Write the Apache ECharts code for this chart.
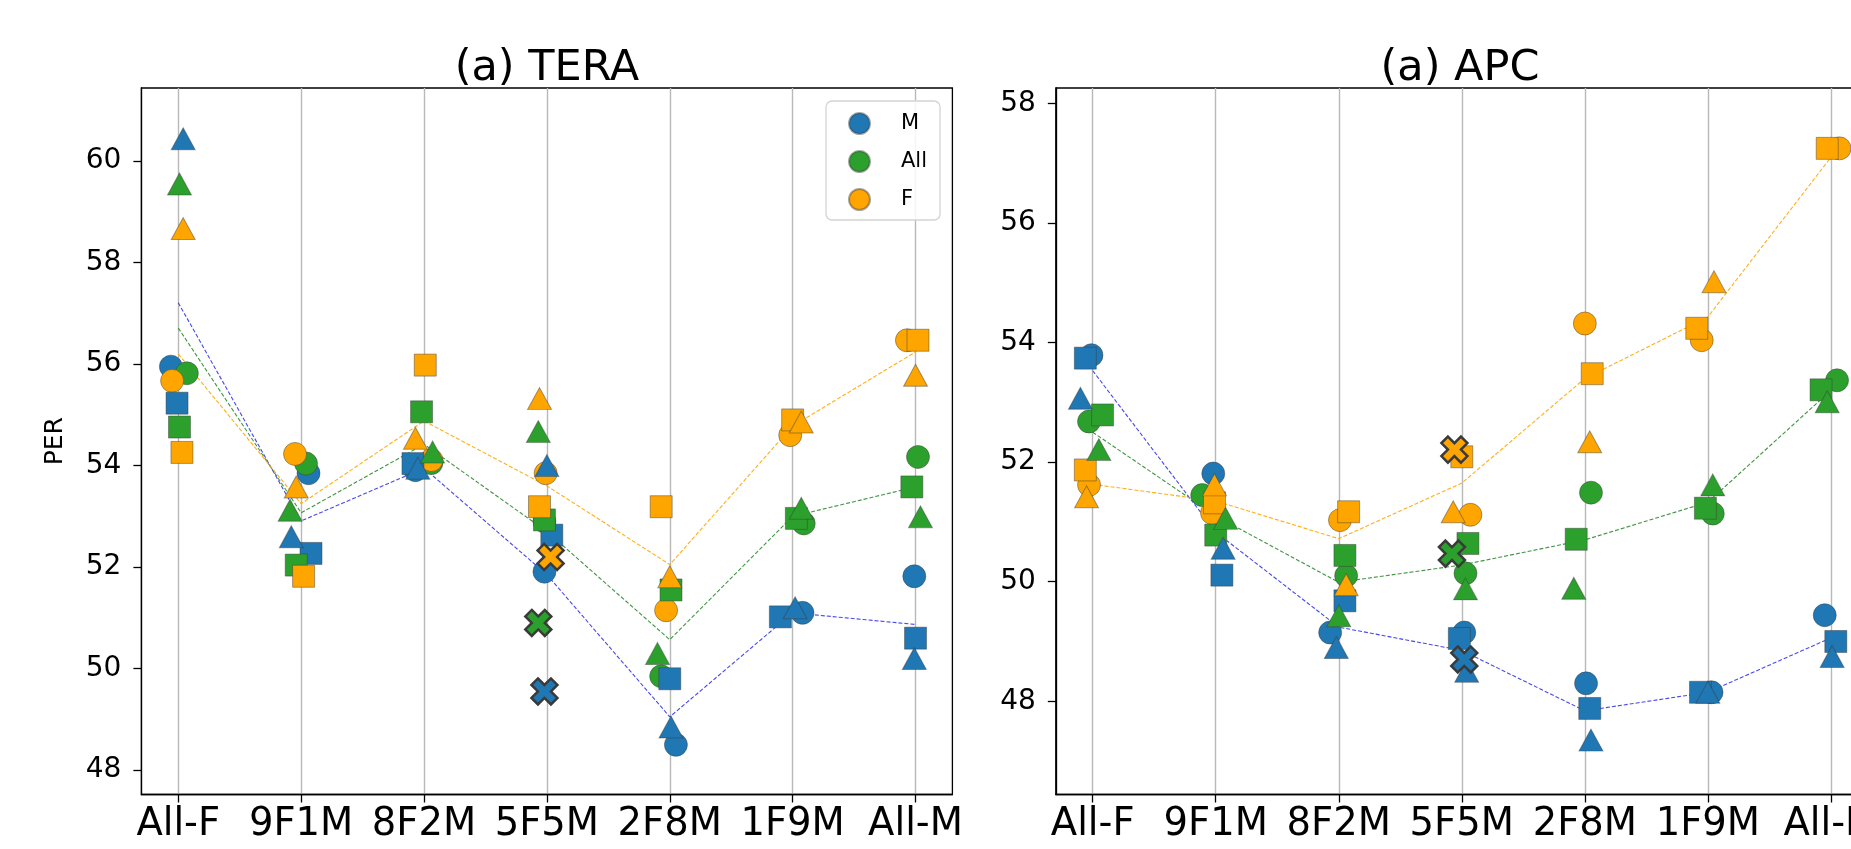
<!DOCTYPE html>
<html><head><meta charset="utf-8">
<script src="https://cdn.jsdelivr.net/npm/echarts@6/dist/echarts.min.js"></script>
<style>html,body{margin:0;padding:0;background:#fff}#c{width:1851px;height:849px}</style>
</head><body><div id="c"></div>
<script>
// ---------- data ----------
const categories = ['All-F', '9F1M', '8F2M', '5F5M', '2F8M', '1F9M', 'All-M'];
const xTicks = [0, 1, 2, 3, 4, 5, 6];
const teraYTicks = [48, 50, 52, 54, 56, 58, 60];
const apcYTicks = [48, 50, 52, 54, 56, 58];
const groups = ['M', 'All', 'F'];

// TERA
const teraM_circle   = [55.95, 53.85, 53.91, 51.91, 48.50, 51.10, 51.82];
const teraM_square   = [55.23, 52.27, 54.04, 52.63, 49.80, 51.02, 50.60];
const teraM_triangle = [60.44, 52.60, 53.95, 54.00, 48.85, 51.20, 50.20];
const teraAll_circle   = [55.82, 54.04, 54.05, 52.90, 49.85, 52.86, 54.17];
const teraAll_square   = [54.76, 52.04, 55.06, 52.93, 51.55, 52.96, 53.58];
const teraAll_triangle = [59.55, 53.12, 54.27, 54.67, 50.30, 53.16, 52.99];
const teraF_circle   = [55.67, 54.23, 54.11, 53.85, 51.15, 54.60, 56.47];
const teraF_square   = [54.26, 51.82, 55.98, 53.19, 53.19, 54.90, 56.47];
const teraF_triangle = [58.67, 53.58, 54.54, 55.32, 51.81, 54.86, 55.78];
const teraX_5F5M = [49.55, 50.90, 52.20];          // M, All, F
const teraLineM   = [57.21, 52.91, 53.95, 51.85, 49.05, 51.10, 50.87];
const teraLineAll = [56.71, 53.07, 54.42, 52.70, 50.57, 53.00, 53.58];
const teraLineF   = [56.20, 53.25, 54.88, 53.60, 52.05, 54.78, 56.24];
// horizontal jitter of each marker (category units)
const teraJitM_circle   = [-0.06, 0.06, -0.07, -0.02, 0.05, 0.08, -0.01];
const teraJitM_square   = [-0.01, 0.08, -0.09, 0.04, 0.00, -0.10, 0.00];
const teraJitM_triangle = [0.04, -0.08, -0.05, 0.00, 0.01, 0.02, -0.01];
const teraJitAll_circle   = [0.07, 0.04, 0.06, -0.02, -0.07, 0.09, 0.02];
const teraJitAll_square   = [0.01, -0.04, -0.02, -0.02, 0.01, 0.03, -0.03];
const teraJitAll_triangle = [0.01, -0.09, 0.07, -0.07, -0.10, 0.07, 0.04];
const teraJitF_circle   = [-0.05, -0.05, 0.06, -0.01, -0.03, -0.02, -0.07];
const teraJitF_square   = [0.03, 0.02, 0.01, -0.06, -0.07, 0.00, 0.02];
const teraJitF_triangle = [0.04, -0.04, -0.07, -0.06, 0.00, 0.07, 0.00];
const teraJitX = [-0.02, -0.07, 0.03];

// APC
const apcM_circle   = [53.79, 51.81, 49.15, 49.15, 48.30, 48.15, 49.44];
const apcM_square   = [53.74, 50.11, 49.68, 49.05, 47.88, 48.15, 49.00];
const apcM_triangle = [53.07, 50.56, 48.90, 48.50, 47.35, 48.15, 48.75];
const apcAll_circle   = [52.68, 51.45, 50.10, 50.14, 51.49, 51.14, 53.37];
const apcAll_square   = [52.79, 50.78, 50.44, 50.64, 50.71, 51.23, 53.21];
const apcAll_triangle = [52.21, 51.06, 49.43, 49.88, 49.89, 51.62, 53.01];
const apcF_circle   = [51.62, 51.15, 51.03, 51.12, 54.32, 54.04, 57.25];
const apcF_square   = [51.87, 51.32, 51.17, 52.09, 53.48, 54.24, 57.25];
const apcF_triangle = [51.42, 51.62, 49.95, 51.17, 52.34, 55.02, 56.90];
const apcX_5F5M = [48.70, 50.47, 52.21];
const apcLineM   = [53.53, 50.83, 49.24, 48.85, 47.84, 48.15, 49.06];
const apcLineAll = [52.50, 51.10, 49.99, 50.28, 50.70, 51.33, 53.20];
const apcLineF   = [51.63, 51.35, 50.72, 51.65, 53.40, 54.43, 57.10];
const apcJitM_circle   = [-0.01, -0.02, -0.07, 0.02, 0.01, 0.03, -0.05];
const apcJitM_square   = [-0.06, 0.05, 0.05, -0.02, 0.04, -0.06, 0.04];
const apcJitM_triangle = [-0.10, 0.06, -0.02, 0.04, 0.05, 0.00, 0.01];
const apcJitAll_circle   = [-0.03, -0.11, 0.06, 0.03, 0.05, 0.04, 0.05];
const apcJitAll_square   = [0.08, 0.00, 0.05, 0.05, -0.07, -0.02, -0.08];
const apcJitAll_triangle = [0.05, 0.08, 0.00, 0.03, -0.09, 0.04, -0.03];
const apcJitF_circle   = [-0.03, -0.03, 0.01, 0.07, 0.00, -0.05, 0.07];
const apcJitF_square   = [-0.06, -0.01, 0.08, 0.00, 0.06, -0.09, -0.03];
const apcJitF_triangle = [-0.05, -0.01, 0.06, -0.07, 0.04, 0.05, 0.27];
const apcJitX = [0.02, -0.08, -0.06];

// ---------- styling ----------
const FONT = 'DejaVu Sans';
const colors = {M: '#1f77b4', All: '#2ca02c', F: '#ffa500'};
const lineColors = {M: 'rgba(40,40,235,0.85)', All: 'rgba(30,130,30,0.85)', F: 'rgba(255,165,0,0.9)'};
const edge = 'rgba(60,60,60,0.45)';
const xPath = 'path://M25,0 L50,25 L75,0 L100,25 L75,50 L100,75 L75,100 L50,75 L25,100 L0,75 L25,50 L0,25 Z';

const panels = [
  {
    circle: [teraM_circle, teraAll_circle, teraF_circle],
    square: [teraM_square, teraAll_square, teraF_square],
    triangle: [teraM_triangle, teraAll_triangle, teraF_triangle],
    jc: [teraJitM_circle, teraJitAll_circle, teraJitF_circle],
    js: [teraJitM_square, teraJitAll_square, teraJitF_square],
    jt: [teraJitM_triangle, teraJitAll_triangle, teraJitF_triangle],
    x: teraX_5F5M, jx: teraJitX,
    lines: [teraLineM, teraLineAll, teraLineF]
  },
  {
    circle: [apcM_circle, apcAll_circle, apcF_circle],
    square: [apcM_square, apcAll_square, apcF_square],
    triangle: [apcM_triangle, apcAll_triangle, apcF_triangle],
    jc: [apcJitM_circle, apcJitAll_circle, apcJitF_circle],
    js: [apcJitM_square, apcJitAll_square, apcJitF_square],
    jt: [apcJitM_triangle, apcJitAll_triangle, apcJitF_triangle],
    x: apcX_5F5M, jx: apcJitX,
    lines: [apcLineM, apcLineAll, apcLineF]
  }
];

const series = [];
panels.forEach((p, pi) => {
  groups.forEach((g, gi) => {
    series.push({
      type: 'line', name: 'line-' + g, xAxisIndex: pi, yAxisIndex: pi,
      data: p.lines[gi].map((v, i) => [xTicks[i], v]),
      symbol: 'none', silent: true, z: 1,
      lineStyle: {color: lineColors[g], width: 1.1, type: [4, 2]}
    });
  });
  const addScatter = (kind, vals, jits, symbol, size) => {
    groups.forEach((g, gi) => {
      series.push({
        type: 'scatter', name: kind === 'circle' && pi === 0 ? g : kind + '-' + g,
        xAxisIndex: pi, yAxisIndex: pi, z: 2,
        symbol: symbol, symbolSize: size,
        data: vals[gi].map((v, i) => [xTicks[i] + jits[gi][i], v]),
        itemStyle: {color: colors[g], borderColor: edge, borderWidth: 1, opacity: 1}
      });
    });
  };
  addScatter('circle', p.circle, p.jc, 'circle', 23);
  addScatter('square', p.square, p.js, 'rect', 22);
  addScatter('triangle', p.triangle, p.jt, 'triangle', [24, 22]);
  groups.forEach((g, gi) => {
    series.push({
      type: 'scatter', name: 'x-' + g, xAxisIndex: pi, yAxisIndex: pi, z: 3,
      symbol: xPath, symbolSize: 26,
      data: [[xTicks[3] + p.jx[gi], p.x[gi]]],
      itemStyle: {color: colors[g], borderColor: '#3a3a3a', borderWidth: 2.5, opacity: 1}
    });
  });
});

const xAxisCommon = (gi) => ({
  type: 'value', gridIndex: gi, min: -0.3, max: 6.3,
  axisLine: {show: true, onZero: false, lineStyle: {color: '#000', width: 1.3}},
  axisTick: {show: true, customValues: xTicks, length: 8, lineStyle: {color: '#000', width: 1.3}},
  axisLabel: {customValues: xTicks, formatter: v => categories[Math.round(v)], fontFamily: FONT,
              fontSize: 38.5, color: '#000', margin: 11},
  splitLine: {show: true, lineStyle: {color: '#b8b8b8', width: 1.4}}
});
const yAxisCommon = (gi, min, max, ticks) => ({
  type: 'value', gridIndex: gi, min: min, max: max,
  axisLine: {show: true, onZero: false, lineStyle: {color: '#000', width: 1.3}},
  axisTick: {show: true, customValues: ticks, length: 8, lineStyle: {color: '#000', width: 1.3}},
  axisLabel: {customValues: ticks, fontFamily: FONT, fontSize: 28, color: '#000', margin: 20},
  splitLine: {show: false}
});

const option = {
  backgroundColor: '#fff',
  animation: false,
  title: [
    {text: '(a) TERA', left: 542, top: 42, textAlign: 'center',
     textStyle: {fontFamily: FONT, fontSize: 43, fontWeight: 'normal', color: '#000'}},
    {text: '(a) APC', left: 1455, top: 42, textAlign: 'center',
     textStyle: {fontFamily: FONT, fontSize: 43, fontWeight: 'normal', color: '#000'}}
  ],
  legend: {
    data: groups, orient: 'vertical', left: 826, top: 101,
    icon: 'circle', itemWidth: 21, itemHeight: 21, itemGap: 15,
    padding: [11, 13, 9, 22],
    borderColor: '#d4d4d4', borderWidth: 1.3, borderRadius: 6,
    backgroundColor: 'rgba(255,255,255,0.85)',
    textStyle: {fontFamily: FONT, fontSize: 21, color: '#000', padding: [0, 0, 0, 26]},
    selectedMode: false
  },
  grid: [
    {left: 141.4, top: 88, width: 811, height: 706.5, show: true, borderColor: '#000', borderWidth: 1.3,
     backgroundColor: 'transparent', outerBoundsMode: 'none', containLabel: false},
    {left: 1055.8, top: 88, width: 812, height: 706.5, show: true, borderColor: '#000', borderWidth: 1.3,
     backgroundColor: 'transparent', outerBoundsMode: 'none', containLabel: false}
  ],
  xAxis: [xAxisCommon(0), xAxisCommon(1)],
  yAxis: [
    Object.assign(yAxisCommon(0, 47.52, 61.44, teraYTicks),
      {name: 'PER', nameLocation: 'middle', nameRotate: 90, nameGap: 73,
       nameTextStyle: {fontFamily: FONT, fontSize: 25, color: '#000'}}),
    yAxisCommon(1, 46.44, 58.26, apcYTicks)
  ],
  series: series
};

const chart = echarts.init(document.getElementById('c'), null, {renderer: 'canvas'});
chart.setOption(option);
</script></body></html>
